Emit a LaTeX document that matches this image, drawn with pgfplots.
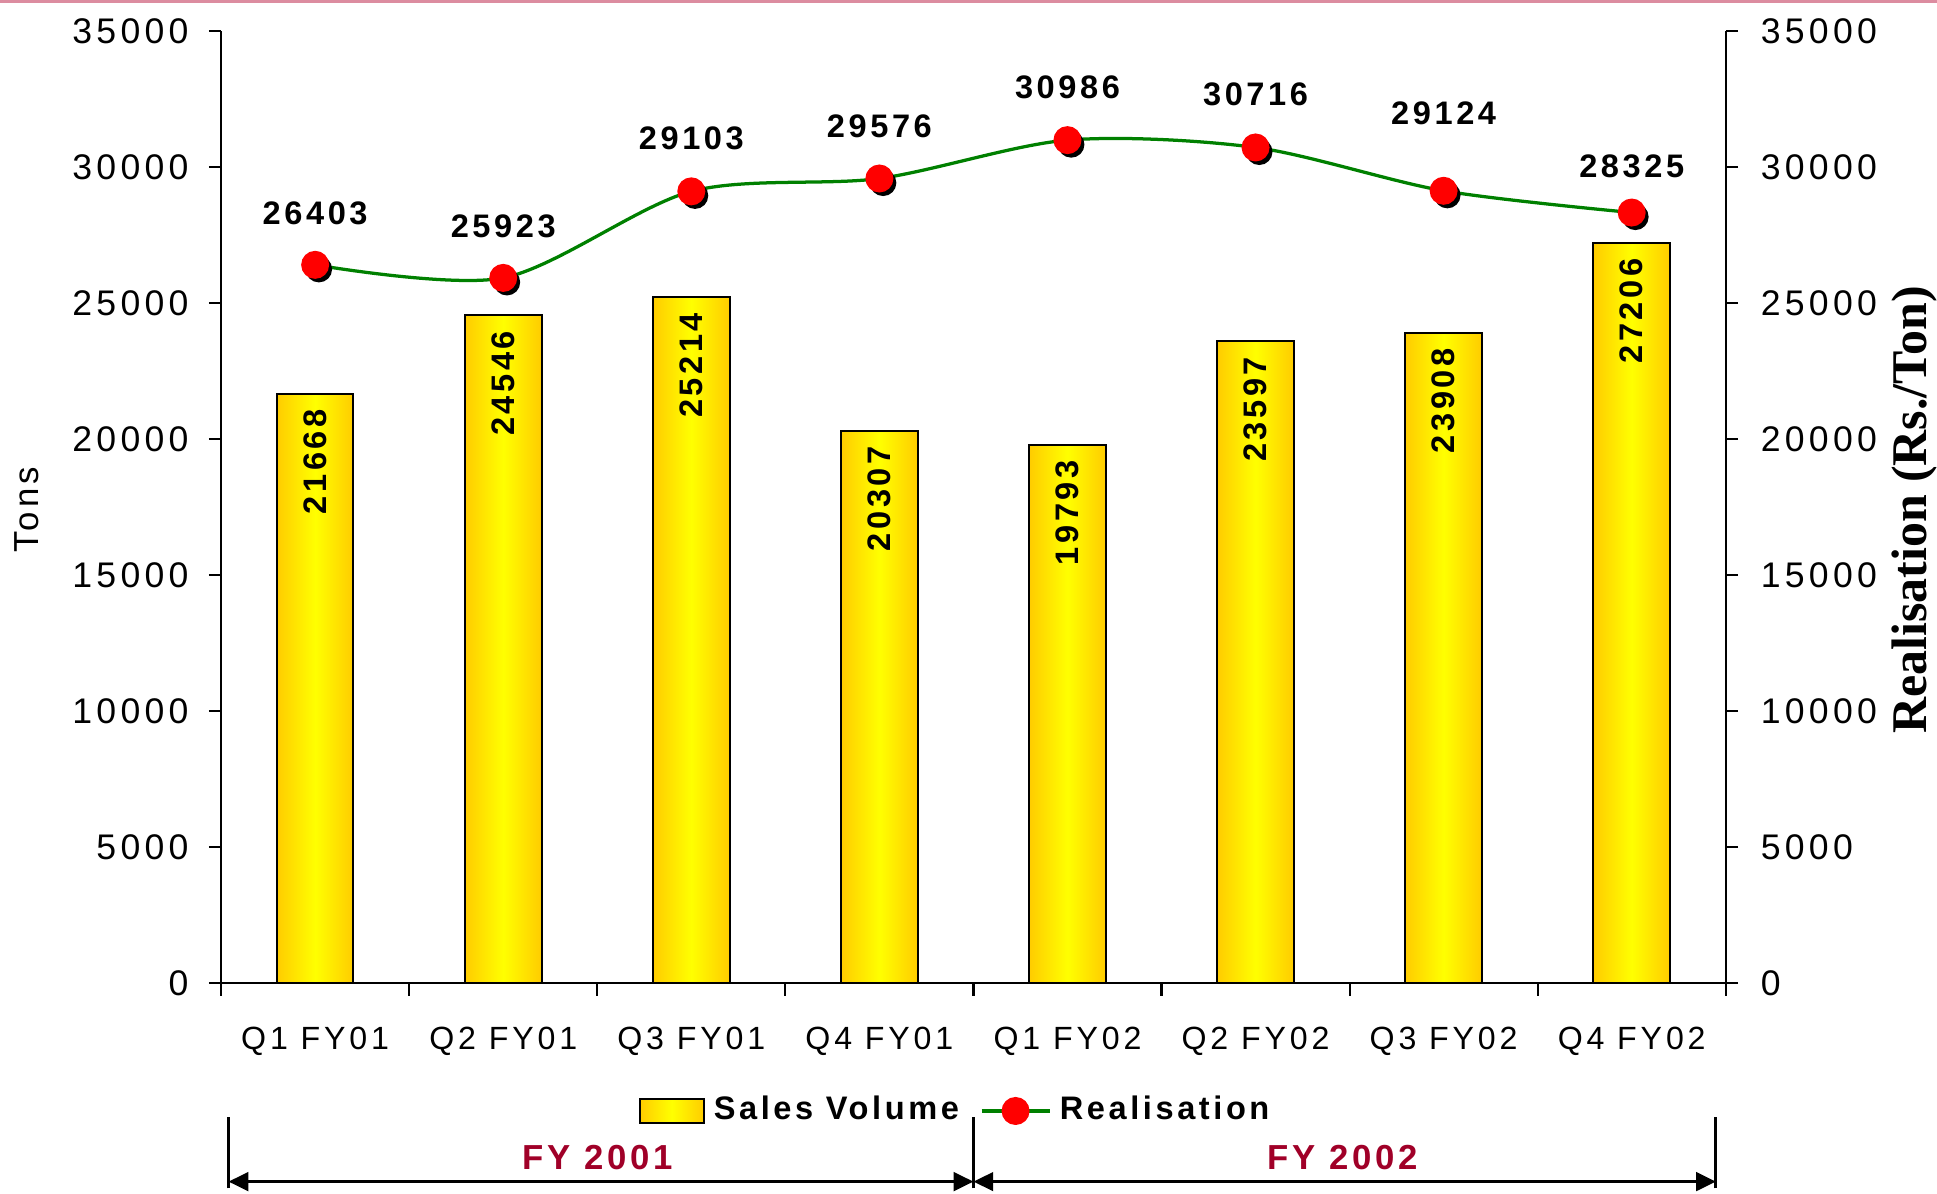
\documentclass[border=0pt]{standalone}
\usepackage{pgfplots}
\pgfplotsset{compat=1.18}
\usepackage{pgfplotstable}
\usepackage{fontspec}
\setmainfont{Liberation Sans}
\usetikzlibrary{arrows.meta}
\newfontfamily\tickfont[LetterSpace=12]{Liberation Sans}
\newfontfamily\ytickfont[LetterSpace=12]{Liberation Sans}
\newfontfamily\lblfont[LetterSpace=11]{Liberation Sans}
\newfontfamily\serifbold{Liberation Serif}
\definecolor{barGold}{RGB}{255,204,0}
\definecolor{barYellow}{RGB}{255,255,0}
\definecolor{lineGreen}{RGB}{0,128,0}
\definecolor{fyRed}{RGB}{160,0,40}
\definecolor{topPink}{RGB}{220,140,160}

% dy: vertical offset (mm) of the value label above each Realisation point
\pgfplotstableread{
x vol real dy
0 21668 26403 3.2
1 24546 25923 3.2
2 25214 29103 3.3
3 20307 29576 3.2
4 19793 30986 3.3
5 23597 30716 3.3
6 23908 29124 5.3
7 27206 28325 2.7
}\datatable

\newcommand{\tickfs}{\tickfont\fontsize{7.4}{9}\selectfont}
\newcommand{\ytickfs}{\ytickfont\fontsize{8.2}{9}\selectfont}
\newcommand{\lblfs}{\lblfont\bfseries\fontsize{7.5}{9}\selectfont}

\pgfplotsset{barstyle/.style={ybar, bar width=6.2mm, bar shift=0pt, draw=black, line width=0.45pt,
  left color=barGold, right color=barGold, middle color=barYellow, forget plot}}

\begin{document}
\begin{tikzpicture}
\path[use as bounding box] (0mm,0mm) rectangle (156.8mm,96.6mm);
\draw[topPink, line width=0.25mm] (0mm,96.5mm) -- (156.8mm,96.5mm);

\begin{axis}[
  at={(17.9mm,17.0mm)}, anchor=south west,
  scale only axis, width=121.8mm, height=77.1mm,
  xmin=-0.5, xmax=7.5, ymin=0, ymax=35000,
  axis x line*=bottom, axis y line*=left,
  axis line style={line width=0.5pt, black},
  tick align=outside, major tick length=1mm,
  tick style={line width=0.5pt, black},
  xtick={-0.5,0.5,...,7.5}, xticklabels={,,,,,,,,,},
  extra x ticks={0,1,2,3,4,5,6,7},
  extra x tick labels={Q1 FY01,Q2 FY01,Q3 FY01,Q4 FY01,Q1 FY02,Q2 FY02,Q3 FY02,Q4 FY02},
  extra x tick style={major tick length=0pt},
  ytick={0,5000,...,35000},
  scaled y ticks=false,
  xticklabel style={font=\tickfs, yshift=-2.3mm},
  yticklabel style={font=\ytickfs, xshift=-0.4mm},
  /pgf/number format/1000 sep={},
  /pgf/number format/assume math mode=true,
  ylabel={Tons},
  ylabel style={at={(axis description cs:-0.1289,0.497)}, anchor=center, font=\tickfont\fontsize{8}{9}\selectfont},
  legend style={at={(axis description cs:0.49,-0.134)}, anchor=center, draw=none, fill=none,
    font=\lblfs, /tikz/every even column/.append style={column sep=1.0mm}},
  legend columns=-1,
]
\addlegendimage{legend image code/.code={\draw[draw=black, line width=0.5pt, left color=barGold, right color=barGold, middle color=barYellow] (0mm,-1mm) rectangle (5.2mm,1mm);}}
\addlegendentry{Sales Volume}

\pgfplotsinvokeforeach{0,1,2,3,4,5,6,7}{
  \addplot[barstyle, restrict x to domain=#1:#1] table[x=x, y=vol]{\datatable};
}

\addplot[forget plot, draw=none, mark=none, nodes near coords,
  every node near coord/.style={rotate=90, anchor=east, inner xsep=1.2mm, inner ysep=0pt, font=\lblfs, text=black}]
  table[x=x, y=vol]{\datatable};

\addplot[forget plot, only marks, mark=*, mark size=1mm, black,
  mark options={xshift=0.3mm, yshift=-0.35mm, fill=black, draw=black}]
  table[x=x, y=real]{\datatable};

\addplot[lineGreen, line width=0.75pt, smooth, mark=*, mark size=1mm,
  mark options={fill=red, draw=red},
  legend image code/.code={\draw[lineGreen, line width=0.75pt] (0mm,0mm) -- (5.5mm,0mm); \fill[red] (2.75mm,0mm) circle (1mm);}]
  table[x=x, y=real]{\datatable};
\addlegendentry{Realisation}

\addplot[forget plot, draw=none, mark=none, nodes near coords,
  visualization depends on={\thisrow{dy} \as \labdy},
  every node near coord/.style={anchor=south, inner sep=0pt, yshift={\labdy*1mm}, font=\lblfs, text=black}]
  table[x=x, y=real]{\datatable};
\end{axis}

\begin{axis}[
  at={(17.9mm,17.0mm)}, anchor=south west,
  scale only axis, width=121.8mm, height=77.1mm,
  xmin=-0.5, xmax=7.5, ymin=0, ymax=35000,
  axis y line*=right, axis x line=none,
  axis line style={line width=0.5pt, black},
  tick align=outside, major tick length=1mm,
  tick style={line width=0.5pt, black},
  ytick={0,5000,...,35000},
  scaled y ticks=false,
  yticklabel style={font=\ytickfs, xshift=0.6mm},
  /pgf/number format/1000 sep={},
  /pgf/number format/assume math mode=true,
  ylabel={Realisation (Rs./Ton)},
  ylabel style={at={(axis description cs:1.1256,0.497)}, anchor=center, rotate=0,
    font=\serifbold\bfseries\fontsize{11.5}{13}\selectfont},
]
\addplot[draw=none, mark=none] coordinates {(0,0)};
\end{axis}

% FY brackets
\draw[black, line width=0.24mm] (18.5mm,0.4mm) -- (18.5mm,6.2mm);
\draw[black, line width=0.24mm] (78.8mm,0.4mm) -- (78.8mm,6.2mm);
\draw[black, line width=0.24mm] (138.9mm,0.4mm) -- (138.9mm,6.2mm);
\draw[black, line width=0.24mm, {Triangle[length=1.6mm,width=1.5mm]}-{Triangle[length=1.6mm,width=1.5mm]}] (18.5mm,0.95mm) -- (78.8mm,0.95mm);
\draw[black, line width=0.24mm, {Triangle[length=1.6mm,width=1.5mm]}-{Triangle[length=1.6mm,width=1.5mm]}] (78.8mm,0.95mm) -- (138.9mm,0.95mm);
\node[text=fyRed, font=\lblfont\bfseries\fontsize{8}{9}\selectfont, anchor=center] at (48.4mm,2.9mm) {FY 2001};
\node[text=fyRed, font=\lblfont\bfseries\fontsize{8}{9}\selectfont, anchor=center] at (108.7mm,2.9mm) {FY 2002};
\end{tikzpicture}
\end{document}
